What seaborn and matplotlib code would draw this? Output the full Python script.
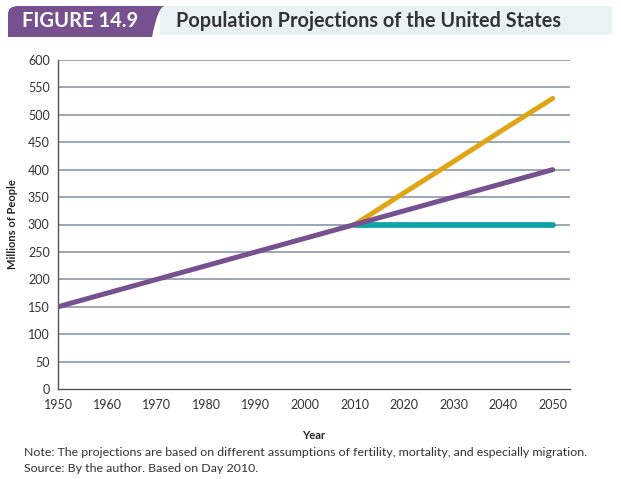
import numpy as np
import pandas as pd
import seaborn as sns
import matplotlib.pyplot as plt
from matplotlib.path import Path
from matplotlib.patches import PathPatch, Rectangle

# values (millions of people)
years_all = [1950, 1960, 1970, 1980, 1990, 2000, 2010, 2020, 2030, 2040, 2050]
middle = [150, 175, 200, 225, 250, 275, 300, 325, 350, 375, 400]
years_proj = [2010, 2020, 2030, 2040, 2050]
high = [300, 358, 415, 473, 530]
zero_migration = [300, 300, 300, 300, 300]

yticks = list(range(0, 601, 50))

sns.set_style("white")
plt.rcParams['font.family'] = ['Lato', 'DejaVu Sans']

W, H = 621, 479
fig = plt.figure(figsize=(6.21, 4.79), dpi=100)
ax = fig.add_axes([58 / W, 1 - 389 / H, 512 / W, 329 / H])

grid_col = '#7f91a3'
for v in yticks[1:]:
    ax.axhline(v, color=grid_col, lw=1.1, zorder=1)

sns.lineplot(x=years_proj, y=zero_migration, ax=ax, color='#12a3a8', lw=4.2, zorder=3)
sns.lineplot(x=years_proj, y=high, ax=ax, color='#e0a514', lw=3.6, zorder=3)
sns.lineplot(x=years_all, y=middle, ax=ax, color='#76508f', lw=3.6, zorder=4)

ax.set_xlim(1950, 2053.5)
ax.set_ylim(0, 600)
ax.set_xticks(years_all)
ax.set_yticks(yticks)
ax.tick_params(axis='x', direction='in', length=6, width=0.8, color='#777777',
               labelsize=9, pad=7, labelcolor='#333333')
ax.tick_params(axis='y', length=0, labelsize=9, pad=6, labelcolor='#333333')
for s in ['top', 'right']:
    ax.spines[s].set_visible(False)
for s in ['left', 'bottom']:
    ax.spines[s].set_color('#555555')
    ax.spines[s].set_linewidth(1.0)
ax.set_xlabel('Year', fontsize=8, fontweight='bold', color='#222222')
ax.set_ylabel('Millions of People', fontsize=8, fontweight='bold', color='#222222')
ax.xaxis.set_label_coords(0.5, -(430 - 389) / 329)
ax.yaxis.set_label_coords(-(58 - 18) / 512, 0.5)

# header band
fig.patches.append(Rectangle((160 / W, 1 - 35 / H), 452 / W, 29 / H,
                             transform=fig.transFigure, facecolor='#eaf3f3',
                             edgecolor='none', zorder=0))
pts = [(8, 37), (8, 14), (8, 6), (18, 6), (165, 6), (158, 6), (152, 37), (8, 37)]
codes = [Path.MOVETO, Path.LINETO, Path.CURVE3, Path.CURVE3, Path.LINETO,
         Path.CURVE3, Path.CURVE3, Path.CLOSEPOLY]
verts = [(x / W, 1 - y / H) for x, y in pts]
fig.patches.append(PathPatch(Path(verts, codes), transform=fig.transFigure,
                             facecolor='#76508f', edgecolor='none', zorder=1))
fig.text(80 / W, 1 - 21 / H, 'FIGURE 14.9', color='white', fontsize=14.5,
         fontweight='bold', ha='center', va='center')
fig.text(176 / W, 1 - 21 / H, 'Population Projections of the United States',
         color='#333333', fontsize=14.3, fontweight='bold', ha='left', va='center')

fig.text(24 / W, 1 - 452 / H,
         'Note: The projections are based on different assumptions of fertility, mortality, and especially migration.',
         fontsize=8.9, color='#333333', ha='left', va='center')
fig.text(24 / W, 1 - 468 / H, 'Source: By the author. Based on Day 2010.',
         fontsize=8.9, color='#333333', ha='left', va='center')

fig.savefig('out.png', dpi=100)
